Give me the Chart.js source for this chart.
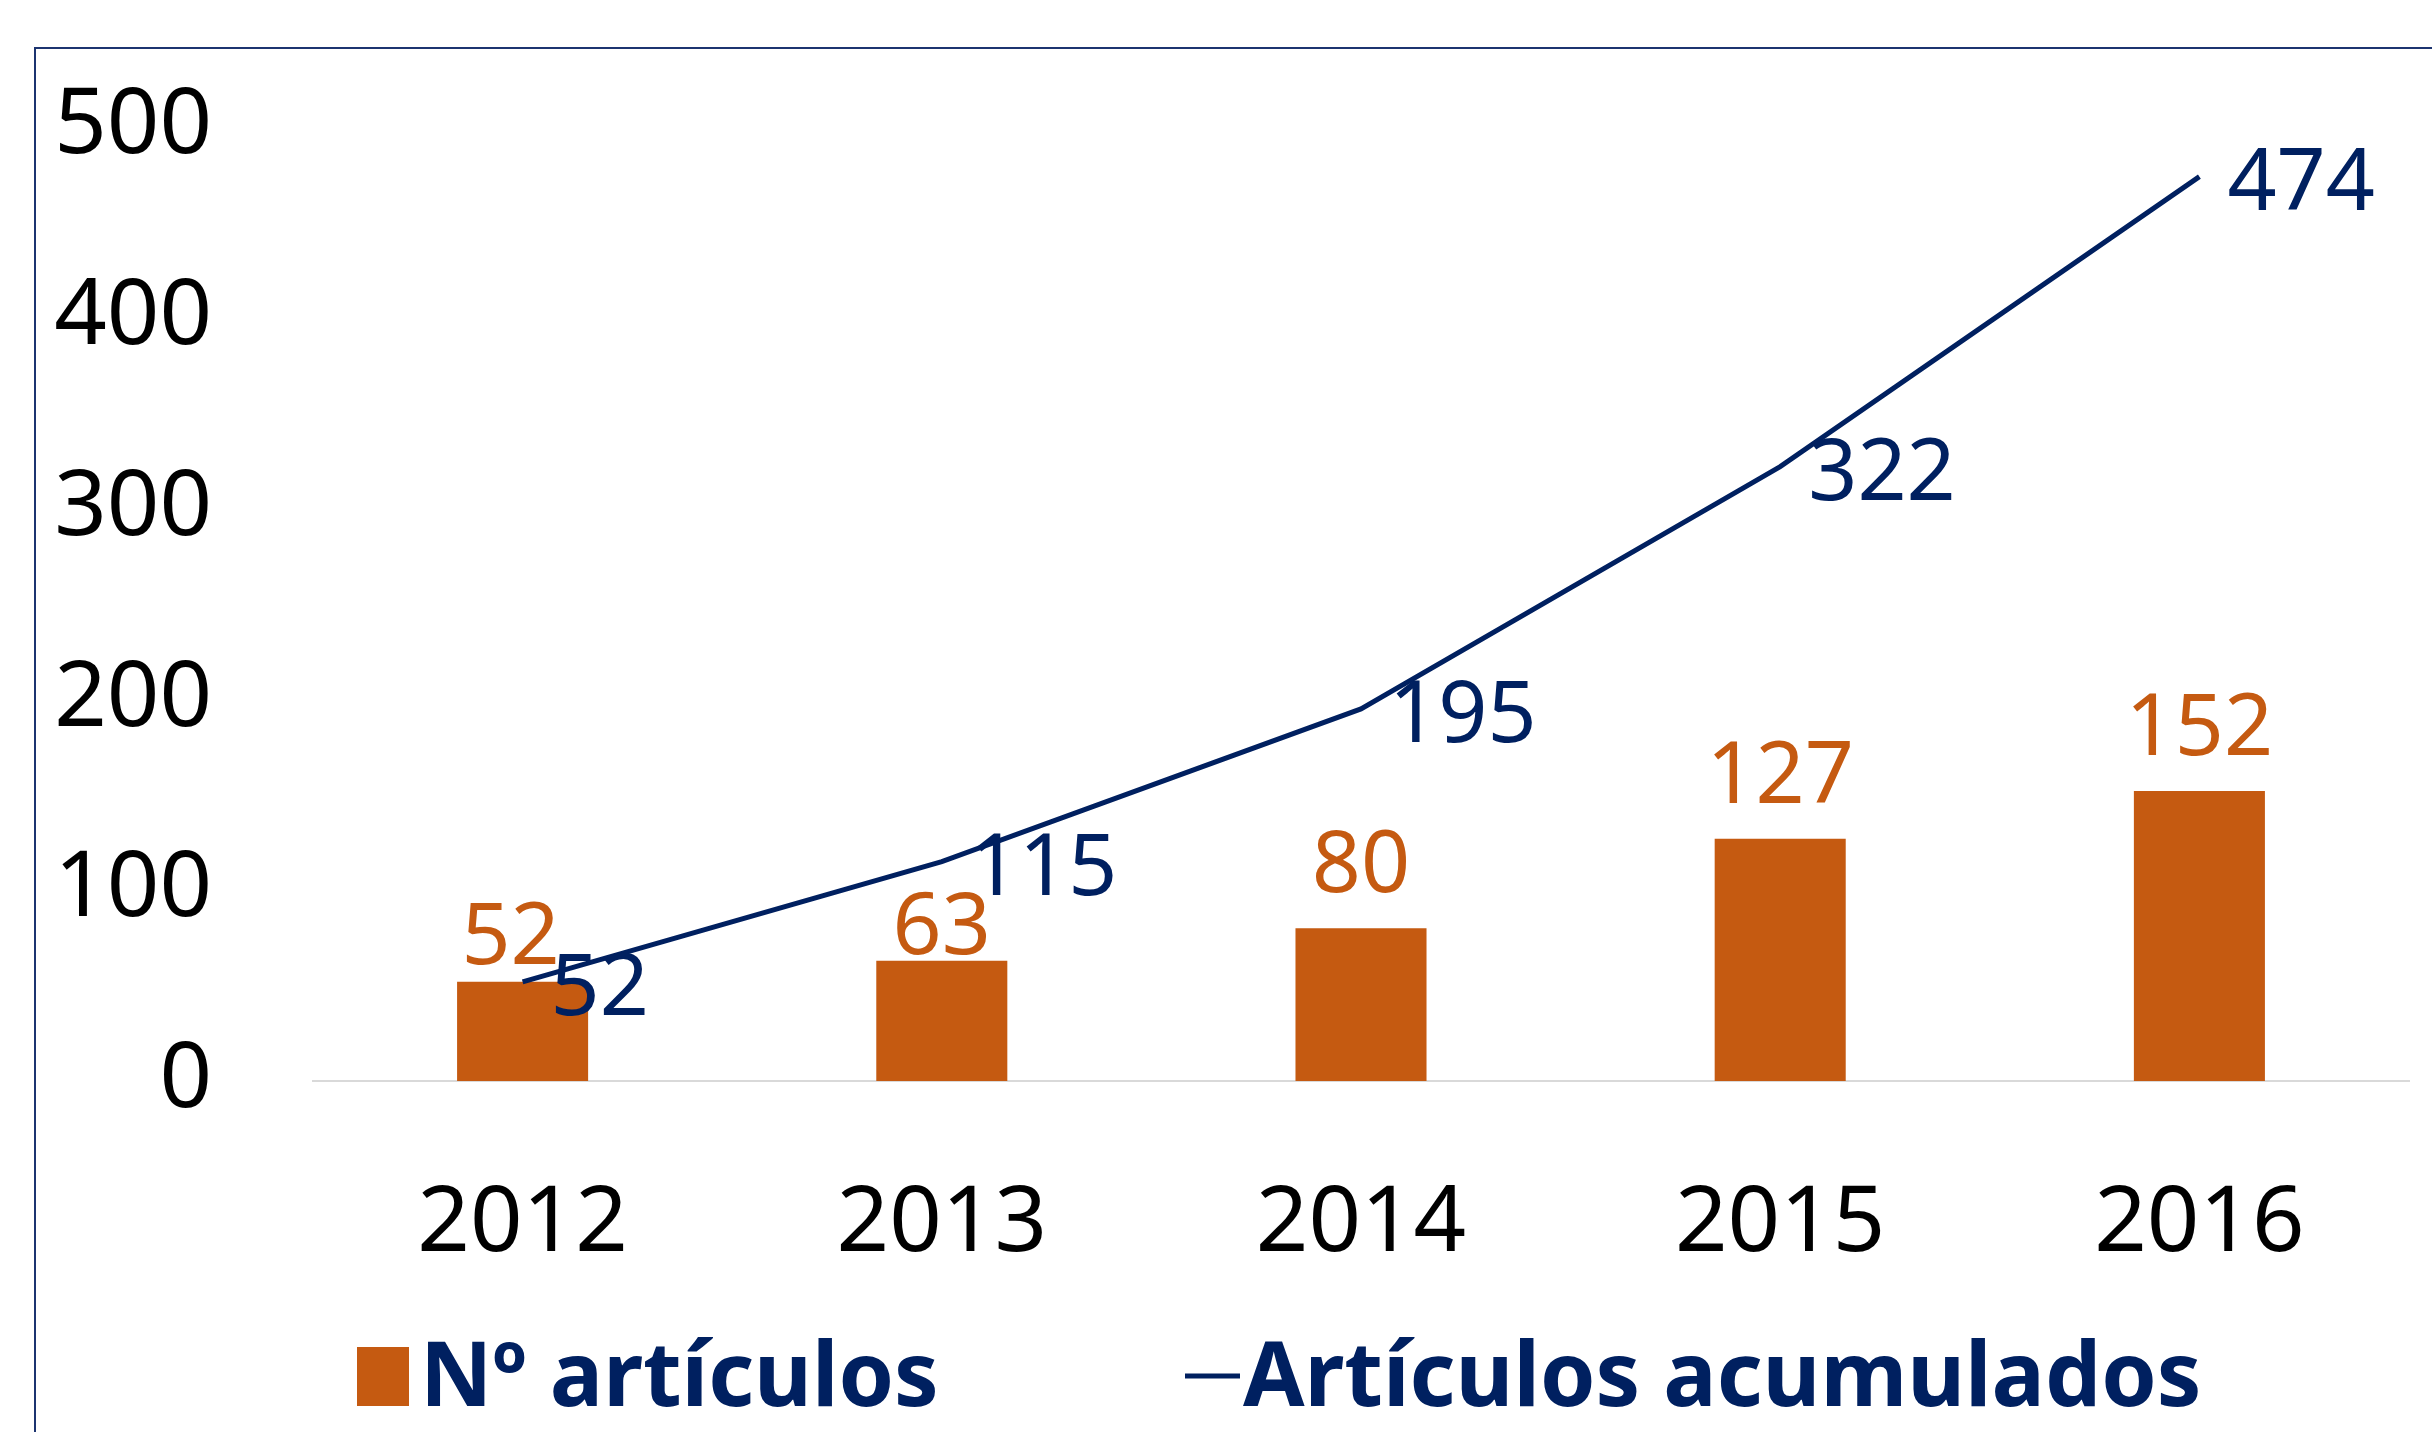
<!DOCTYPE html>
<html>
<head>
<meta charset="utf-8">
<script src="https://cdn.jsdelivr.net/npm/chart.js@4.4.1/dist/chart.umd.min.js"></script>
<style>
  html, body { margin: 0; padding: 0; background: #ffffff; }
  #wrap { width: 2432px; height: 1432px; position: relative; }
</style>
</head>
<body>
<div id="wrap"><canvas id="c"></canvas></div>
<script>
// ---- data ----
const categories = ['2012', '2013', '2014', '2015', '2016'];
const articulos = [52, 63, 80, 127, 152];
const acumulados = [52, 115, 195, 322, 474];
const yTicks = [0, 100, 200, 300, 400, 500];
const seriesNames = ['Nº artículos', 'Artículos acumulados'];

// ---- style ----
const ORANGE = '#C55A11';
const NAVY = '#002060';
const FONT = "'Noto Sans', 'Open Sans', sans-serif";
const barLabelNudge = [{dx: -12, gap: 18}, {dx: 0, gap: 7}, {dx: 0, gap: 36}, {dx: 0, gap: 36}, {dx: 0, gap: 36}];

const valueLabels = {
  id: 'valueLabels',
  afterDatasetsDraw(chart) {
    const ctx = chart.ctx;
    ctx.save();
    ctx.font = '86px ' + FONT;
    ctx.textBaseline = 'alphabetic';
    chart.data.datasets.forEach((ds, di) => {
      const meta = chart.getDatasetMeta(di);
      meta.data.forEach((el, i) => {
        const v = ds.data[i];
        if (ds.type === 'line') {
          ctx.fillStyle = NAVY;
          ctx.textAlign = 'left';
          ctx.fillText(String(v), el.x + 28, el.y + 33);
        } else {
          const n = barLabelNudge[i] || {dx: 0, gap: 36};
          ctx.fillStyle = ORANGE;
          ctx.textAlign = 'center';
          ctx.fillText(String(v), el.x + n.dx, el.y - n.gap);
        }
      });
    });
    ctx.restore();
  }
};

const frameAndLegend = {
  id: 'frameAndLegend',
  beforeDraw(chart) {
    const ctx = chart.ctx;
    ctx.save();
    ctx.strokeStyle = '#1c3470';
    ctx.lineWidth = 2;
    ctx.beginPath();
    ctx.moveTo(35, chart.height + 10);
    ctx.lineTo(35, 48);
    ctx.lineTo(chart.width + 10, 48);
    ctx.stroke();
    ctx.restore();
  },
  afterDraw(chart) {
    const ctx = chart.ctx;
    const ca = chart.chartArea;
    ctx.save();
    ctx.font = 'bold 89px ' + FONT;
    ctx.textBaseline = 'alphabetic';
    ctx.textAlign = 'left';
    const base = ca.bottom + 325;
    // item 1: bar
    const x1 = ca.left + 44;
    ctx.fillStyle = ORANGE;
    ctx.fillRect(x1, base - 59, 52, 59);
    ctx.fillStyle = NAVY;
    ctx.fillText(seriesNames[0], x1 + 63, base);
    // item 2: line
    const x2 = ca.left + 872;
    ctx.strokeStyle = NAVY;
    ctx.lineWidth = 5;
    ctx.beginPath();
    ctx.moveTo(x2, base - 30);
    ctx.lineTo(x2 + 55, base - 30);
    ctx.stroke();
    ctx.fillText(seriesNames[1], x2 + 58, base);
    ctx.restore();
  }
};

new Chart(document.getElementById('c'), {
  type: 'bar',
  data: {
    labels: categories,
    datasets: [
      {
        type: 'bar',
        label: seriesNames[0],
        data: articulos,
        backgroundColor: ORANGE,
        borderWidth: 0,
        categoryPercentage: 1.0,
        barPercentage: 0.3126,
        order: 1
      },
      {
        type: 'line',
        label: seriesNames[1],
        data: acumulados,
        borderColor: NAVY,
        borderWidth: 5,
        pointRadius: 0,
        tension: 0,
        fill: false,
        order: 0
      }
    ]
  },
  options: {
    responsive: true,
    maintainAspectRatio: false,
    devicePixelRatio: 1,
    animation: false,
    layout: { padding: { top: 127, right: 23, left: 0, bottom: 0 } },
    plugins: {
      legend: { display: false },
      tooltip: { enabled: false },
      title: { display: false }
    },
    scales: {
      x: {
        grid: { display: false, drawTicks: false },
        border: { display: true, color: '#D9D9D9', width: 2 },
        ticks: { color: '#000000', font: { family: FONT, size: 92 }, padding: 89, maxRotation: 0 },
        afterFit(s) { s.height = 351; }
      },
      y: {
        min: 0,
        max: 500,
        grid: { display: false, drawTicks: false },
        border: { display: false },
        ticks: {
          color: '#000000',
          font: { family: FONT, size: 92 },
          padding: 101,
          stepSize: 100,
          callback: (v) => yTicks.includes(v) ? String(v) : ''
        },
        afterFit(s) { s.width = 313; s.paddingTop = 0; s.paddingBottom = 0; }
      }
    }
  },
  plugins: [valueLabels, frameAndLegend]
});
</script>
</body>
</html>
